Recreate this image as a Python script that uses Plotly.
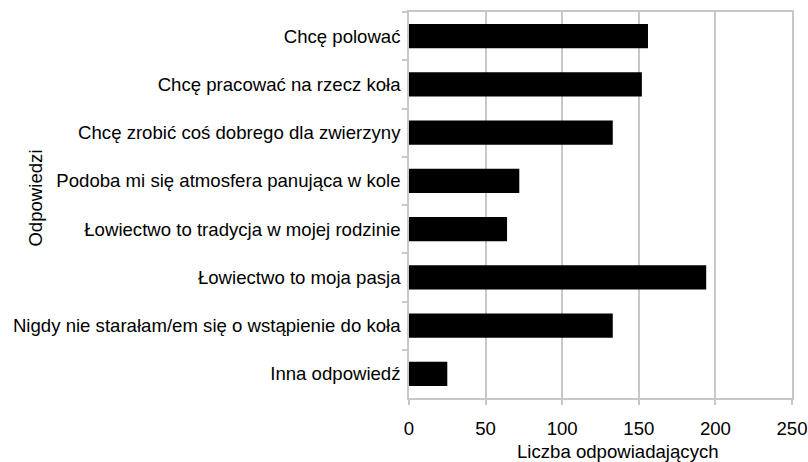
import plotly.graph_objects as go

categories = [
    "Chcę polować",
    "Chcę pracować na rzecz koła",
    "Chcę zrobić coś dobrego dla zwierzyny",
    "Podoba mi się atmosfera panująca w kole",
    "Łowiectwo to tradycja w mojej rodzinie",
    "Łowiectwo to moja pasja",
    "Nigdy nie starałam/em się o wstąpienie do koła",
    "Inna odpowiedź",
]
values = [156, 152, 133, 72, 64, 194, 133, 25]
x_ticks = [0, 50, 100, 150, 200, 250]
x_title = "Liczba odpowiadających"
y_title = "Odpowiedzi"

FONT = "Liberation Sans, Arial, sans-serif"
FS = 18.6
GRID = "#c8c8c8"

fig = go.Figure(
    go.Bar(
        x=values,
        y=categories,
        orientation="h",
        marker=dict(color="black", line=dict(width=0)),
    )
)

fig.update_layout(
    width=808,
    height=462,
    margin=dict(l=409, r=16, t=12, b=63.5, pad=0, autoexpand=False),
    paper_bgcolor="white",
    plot_bgcolor="white",
    bargap=0.5,
    showlegend=False,
    font=dict(family=FONT, size=FS, color="black"),
    annotations=[
        dict(text=y_title, xref="paper", yref="paper", x=-0.974, y=0.519,
             xanchor="center", yanchor="middle", textangle=-90, showarrow=False,
             font=dict(family=FONT, size=FS, color="black")),
        dict(text=x_title, xref="paper", yref="paper", x=0.546, y=-0.138,
             xanchor="center", yanchor="middle", showarrow=False,
             font=dict(family=FONT, size=FS, color="black")),
    ],
)

fig.update_xaxes(
    range=[0, 250],
    tickvals=x_ticks,
    ticktext=[str(v) for v in x_ticks],
    showgrid=True,
    gridcolor=GRID,
    gridwidth=1.5,
    zeroline=False,
    showline=True,
    linecolor=GRID,
    linewidth=1.5,
    mirror=True,
    ticks="outside",
    ticklen=5,
    tickcolor=GRID,
    tickwidth=1.5,
    ticklabelstandoff=8,
    automargin=False,
    tickfont=dict(family=FONT, size=FS, color="black"),
)

fig.update_yaxes(
    categoryorder="array",
    categoryarray=categories,
    autorange="reversed",
    showgrid=False,
    zeroline=False,
    showline=True,
    linecolor=GRID,
    linewidth=1.5,
    mirror=True,
    ticks="outside",
    tickson="boundaries",
    ticklen=5,
    tickcolor=GRID,
    tickwidth=1.5,
    ticklabelstandoff=3,
    automargin=False,
    tickfont=dict(family=FONT, size=FS, color="black"),
)

fig.write_html(
    "out.html",
    config={"displayModeBar": False},
    post_script="document.body.style.margin='0';document.body.style.overflow='hidden';",
)
